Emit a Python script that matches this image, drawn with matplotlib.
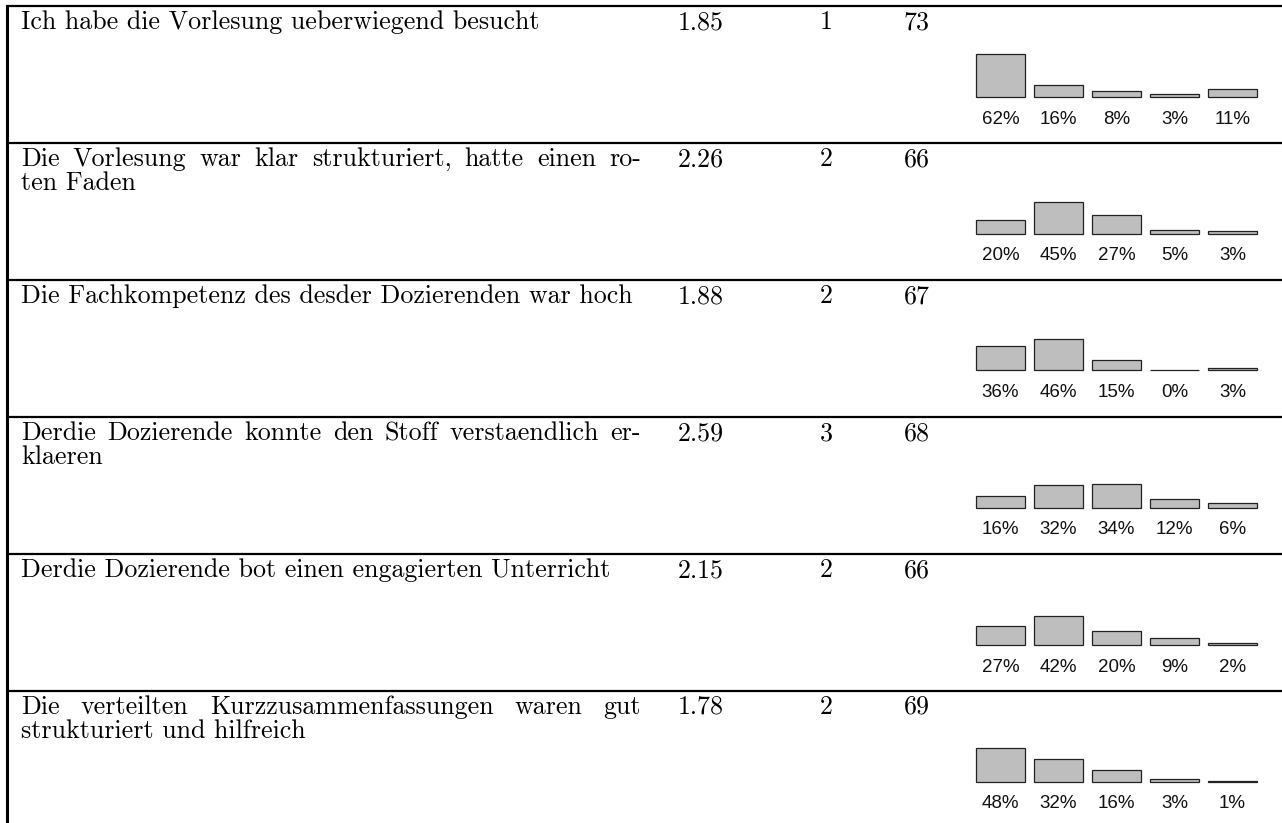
import matplotlib
matplotlib.use("Agg")
import matplotlib.pyplot as plt

# Daten der Evaluation
questions = [
    "Ich habe die Vorlesung ueberwiegend besucht",
    "Die Vorlesung war klar strukturiert, hatte einen ro-\nten Faden",
    "Die Fachkompetenz des desder Dozierenden war hoch",
    "Derdie Dozierende konnte den Stoff verstaendlich er-\nklaeren",
    "Derdie Dozierende bot einen engagierten Unterricht",
    "Die verteilten Kurzzusammenfassungen waren gut\nstrukturiert und hilfreich",
]
means = [1.85, 2.26, 1.88, 2.59, 2.15, 1.78]
medians = [1, 2, 2, 3, 2, 2]
counts = [73, 66, 67, 68, 66, 69]
shares = [
    [62, 16, 8, 3, 11],
    [20, 45, 27, 5, 3],
    [36, 46, 15, 0, 3],
    [16, 32, 34, 12, 6],
    [27, 42, 20, 9, 2],
    [48, 32, 16, 3, 1],
]

W, H = 1282, 823
row_top0 = 6
row_h = 137
text_left = 21
text_right = 641
serif = "cmr10"
fs = 18.7

fig = plt.figure(figsize=(W / 100, H / 100), dpi=100)
ax = fig.add_axes([0, 0, 1, 1])
ax.set_xlim(0, W)
ax.set_ylim(H, 0)
ax.axis("off")
renderer = fig.canvas.get_renderer()


def text_width(s):
    t = ax.text(0, 0, s, family=serif, fontsize=fs)
    w = t.get_window_extent(renderer).width
    t.remove()
    return w


# Tabellenrahmen
ax.plot([6.5, 6.5], [row_top0 - 1, H], color="black", lw=2.2, solid_capstyle="butt")
for i in range(len(questions)):
    y = row_top0 + i * row_h
    ax.plot([5.5, W], [y, y], color="black", lw=1.6, solid_capstyle="butt")

line_skip = 23.5
for i, q in enumerate(questions):
    top = row_top0 + i * row_h
    base = top + 23
    lines = q.split("\n")
    for k, line in enumerate(lines):
        y = base + k * line_skip
        if k < len(lines) - 1:
            # Blocksatz
            words = line.split()
            widths = [text_width(w) for w in words]
            gap = (text_right - text_left - sum(widths)) / (len(words) - 1)
            x = text_left
            for w, wd in zip(words, widths):
                ax.text(x, y, w, family=serif, fontsize=fs, va="baseline", ha="left")
                x += wd + gap
        else:
            ax.text(text_left, y, line, family=serif, fontsize=fs, va="baseline", ha="left")
    ax.text(678, base, f"{means[i]:.2f}", family=serif, fontsize=fs, va="baseline")
    ax.text(820, base, str(medians[i]), family=serif, fontsize=fs, va="baseline")
    ax.text(904, base, str(counts[i]), family=serif, fontsize=fs, va="baseline")

    # kleines Balkendiagramm
    baseline = top + 90.5
    px_per_pct = 0.69
    bax = fig.add_axes([971.5 / W, (H - baseline) / H, 290 / W, 100 * px_per_pct / H])
    bax.set_xlim(-0.5, 4.5)
    bax.set_ylim(0, 100)
    bax.axis("off")
    bars = bax.bar(range(5), shares[i], width=49 / 58, color="#bebebe",
                   edgecolor="#222222", linewidth=0.9)
    for b in bars:
        b.set_clip_on(False)
    for j, v in enumerate(shares[i]):
        bax.annotate(f"{v}%", xy=(j, 0), xytext=(0, -22.5 * 0.72),
                     textcoords="offset points", ha="center", va="center",
                     family="Liberation Sans", fontsize=13.5, color="#111111",
                     annotation_clip=False)

fig.savefig("out.png", dpi=100)
